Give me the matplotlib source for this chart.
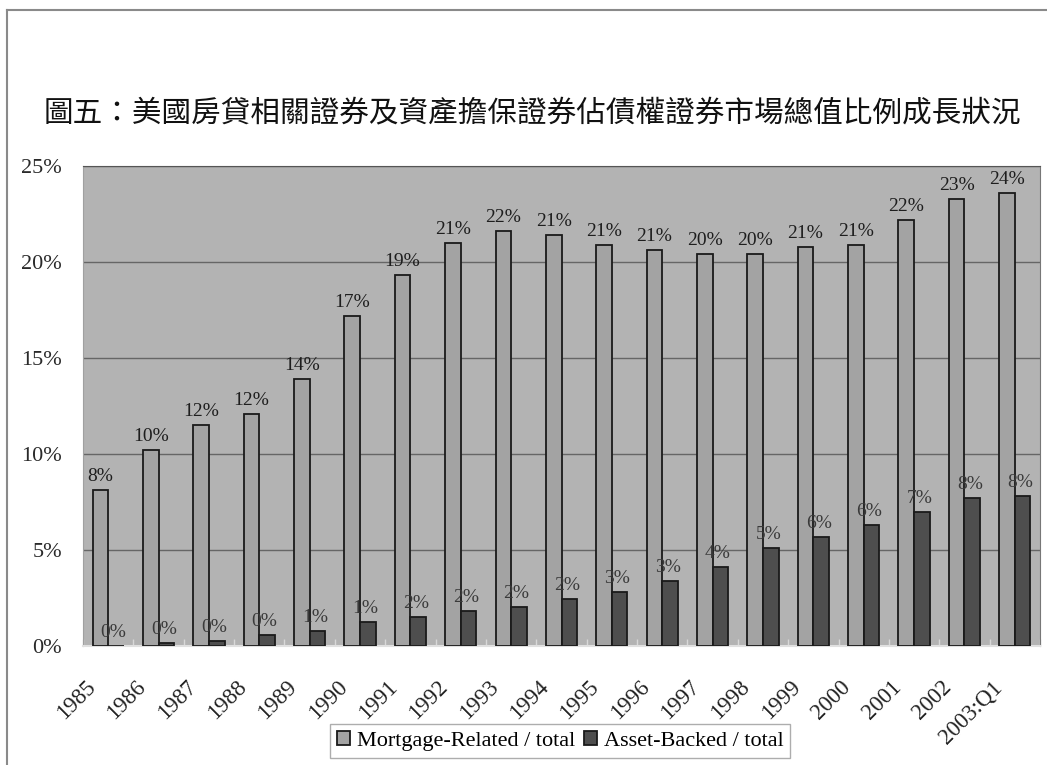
import matplotlib.pyplot as plt
import numpy as np
from matplotlib.lines import Line2D

plt.rcParams['font.family'] = ['Liberation Serif', 'Noto Sans CJK TC']

years = ['1985', '1986', '1987', '1988', '1989', '1990', '1991', '1992', '1993', '1994',
         '1995', '1996', '1997', '1998', '1999', '2000', '2001', '2002', '2003:Q1']
mortgage = [8.1, 10.2, 11.5, 12.1, 13.9, 17.2, 19.3, 21.0, 21.6, 21.4,
            20.9, 20.6, 20.4, 20.4, 20.8, 20.9, 22.2, 23.3, 23.6]
asset = [0.0, 0.15, 0.25, 0.55, 0.8, 1.25, 1.5, 1.8, 2.05, 2.45,
         2.8, 3.4, 4.1, 5.1, 5.7, 6.3, 7.0, 7.7, 7.8]
mortgage_labels = ['8%', '10%', '12%', '12%', '14%', '17%', '19%', '21%', '22%', '21%',
                   '21%', '21%', '20%', '20%', '21%', '21%', '22%', '23%', '24%']
asset_labels = ['0%', '0%', '0%', '0%', '1%', '1%', '2%', '2%', '2%', '2%',
                '3%', '3%', '4%', '5%', '6%', '6%', '7%', '8%', '8%']
title = '圖五：美國房貸相關證券及資產擔保證券佔債權證券市場總值比例成長狀況'

fig = plt.figure(figsize=(10.47, 7.65), dpi=100)
ax = fig.add_axes([83/1047, 1-646/765, 957/1047, 480/765])
ax.set_facecolor('#b3b3b3')

x = np.arange(len(years))
w = 0.31
b1 = ax.bar(x - w/2, mortgage, w, color='#a3a3a3', edgecolor='#1a1a1a', linewidth=1.3,
            label='Mortgage-Related / total', zorder=3)
b2 = ax.bar(x + w/2, asset, w, color='#4e4e4e', edgecolor='#1a1a1a', linewidth=1.3,
            label='Asset-Backed / total', zorder=3)

for i in range(len(years)):
    ax.annotate(mortgage_labels[i], (x[i] - w/2, mortgage[i]), xytext=(0, 5),
                textcoords='offset pixels', ha='center', va='bottom',
                fontsize=14, color='#1e1e1e', zorder=4)
    ax.annotate(asset_labels[i], (x[i] + w/2 - 0.05, asset[i]), xytext=(0, 5),
                textcoords='offset pixels', ha='center', va='bottom',
                fontsize=14, color='#3a3a3a', zorder=4)

ax.set_xlim(-0.5, len(years) - 0.5)
ax.set_ylim(0, 25)
ax.set_yticks(range(0, 26, 5))
ax.set_yticklabels(['%d%%' % v for v in range(0, 26, 5)], fontsize=16, color='#2a2a2a')
ax.tick_params(axis='y', length=0, pad=15)
ax.yaxis.grid(True, color='#666666', linewidth=1)
ax.set_axisbelow(True)

# category ticks sit between groups, labels are placed by hand
ax.set_xticks(np.arange(len(years) + 1) - 0.5)
ax.set_xticklabels([])
ax.tick_params(axis='x', direction='in', length=5, color='#d8d8d8', width=1)
for i, lab in enumerate(years):
    ax.annotate(lab, (x[i], 0), xytext=(-16, -38), textcoords='offset pixels',
                rotation=45, ha='right', va='center', rotation_mode='anchor',
                fontsize=16.5, color='#222222', annotation_clip=False)

ax.spines['top'].set_color('#555555')
ax.spines['right'].set_color('#777777')
ax.spines['left'].set_color('#a0a0a0')
ax.spines['bottom'].set_color('#e0e0e0')
ax.spines['bottom'].set_linewidth(1.5)

fig.legend(handles=[b1, b2], loc='center', bbox_to_anchor=(560/1047, 1-741/765),
           ncol=2, fontsize=16, frameon=True, fancybox=False, edgecolor='#999999',
           handlelength=0.6, handleheight=0.6, handletextpad=0.3, columnspacing=0.4,
           borderpad=0.3)

fig.text(532/1047, 1-113/765, title, family=['Noto Sans CJK TC'], fontsize=21.3,
         ha='center', va='center', color='#111111')

# page frame
fig.add_artist(Line2D([7/1047, 1], [1-10/765, 1-10/765], color='#8a8a8a', lw=1.5))
fig.add_artist(Line2D([7/1047, 7/1047], [0, 1-10/765], color='#8a8a8a', lw=1.5))

fig.savefig('out.png', dpi=100)
